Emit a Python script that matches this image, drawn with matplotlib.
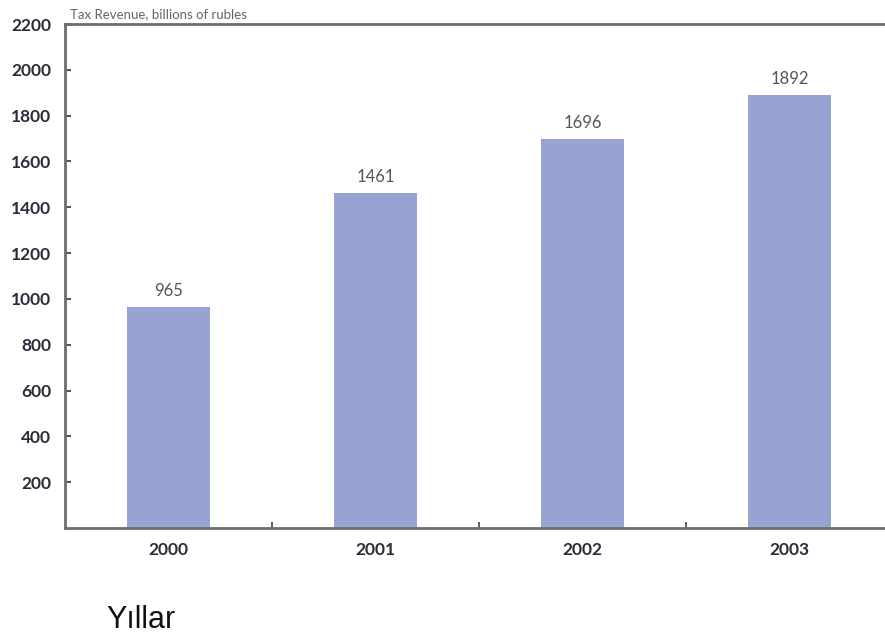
import matplotlib
matplotlib.use('Agg')
import matplotlib.pyplot as plt

years = ['2000', '2001', '2002', '2003']
revenue = [965, 1461, 1696, 1892]
yticks = [200, 400, 600, 800, 1000, 1200, 1400, 1600, 1800, 2000, 2200]

fig = plt.figure(figsize=(8.85, 6.39), dpi=100)
ax = fig.add_axes([65/885, 111/639, 1 - 65/885, 504/639])

x = range(len(years))
ax.bar(x, revenue, width=0.4, color='#97a3d1')
for i, v in enumerate(revenue):
    ax.text(i, v + 35, str(v), ha='center', va='bottom', fontsize=12,
            color='#555555', family='Lato')

ax.set_xlim(-0.5, 3.46)
ax.set_ylim(0, 2200)
ax.set_yticks(yticks)
ax.set_yticklabels([str(t) for t in yticks], fontsize=12.5, fontweight='bold',
                   color='#2b2b3a', family='Lato')
ax.set_xticks(list(x))
ax.set_xticklabels(years, fontsize=12.5, fontweight='bold', color='#2b2b3a', family='Lato')
ax.set_xticks([0.5, 1.5, 2.5], minor=True)
ax.tick_params(axis='x', which='major', length=0, pad=10)
ax.tick_params(axis='x', which='minor', direction='in', length=4, width=1.2, color='#444444')
ax.tick_params(axis='y', direction='in', length=4, width=1.2, color='#333333', pad=10)

for s in ['left', 'bottom', 'top']:
    ax.spines[s].set_color('#6e6e6e')
    ax.spines[s].set_linewidth(2)
ax.spines['right'].set_visible(False)

fig.text(70/885, 1 - 14/639, 'Tax Revenue, billions of rubles', fontsize=9.5,
         color='#666666', family='Lato', va='center')
fig.text(106/885, 1 - 620/639, 'Yıllar', fontsize=22, color='#111111',
         family='Liberation Sans', va='center')

fig.savefig('out.png', dpi=100)
